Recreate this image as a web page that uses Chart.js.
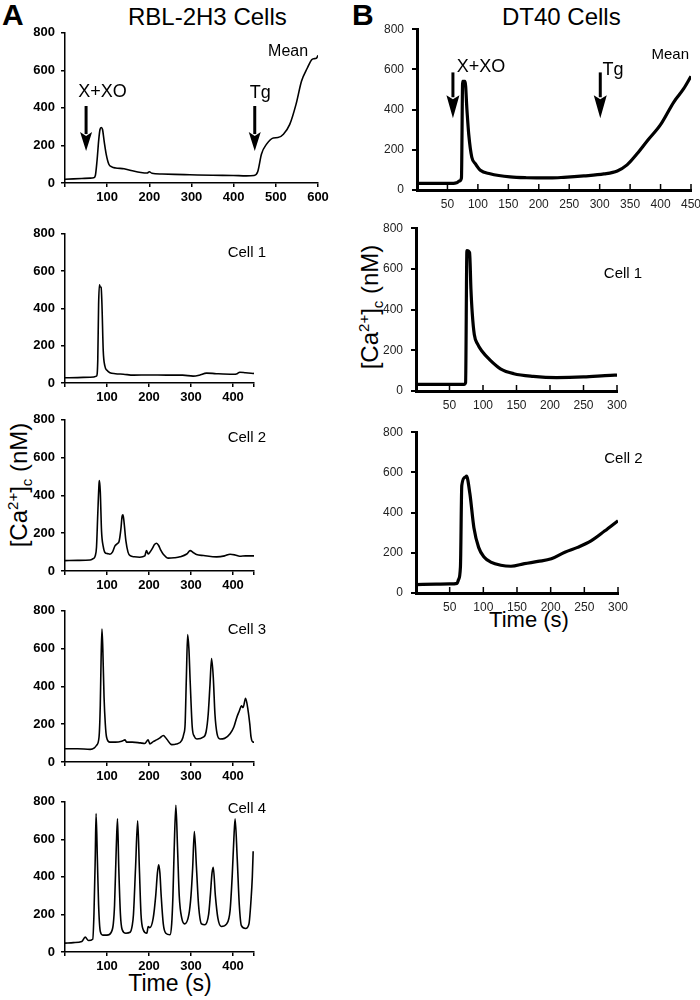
<!DOCTYPE html>
<html><head><meta charset="utf-8">
<script src="https://cdn.jsdelivr.net/npm/chart.js@4.4.1/dist/chart.umd.min.js"></script>
<style>
html,body{margin:0;padding:0;background:#fff;}
body{width:700px;height:1000px;position:relative;overflow:hidden;font-family:'Liberation Sans',Arial,sans-serif;color:#000;}
.lbl{position:absolute;white-space:nowrap;line-height:1;}
canvas{position:absolute;}
.ylab{position:absolute;white-space:nowrap;line-height:1;font-size:24px;transform:translate(-50%,-50%) rotate(-90deg);}
.ylab .sp{font-size:15px;vertical-align:9px;}
.ylab .sb{font-size:15px;vertical-align:-5px;}
</style></head>
<body>
<div class="lbl" style="left:2px;top:0px;font-size:30px;font-weight:bold;">A</div>
<div class="lbl" style="left:128px;top:5px;font-size:24px;">RBL-2H3 Cells</div>
<div class="lbl" style="left:352px;top:0px;font-size:30px;font-weight:bold;">B</div>
<div class="lbl" style="left:502px;top:5px;font-size:24px;">DT40 Cells</div>
<div class="lbl" style="left:170px;top:972px;font-size:23px;transform:translateX(-50%);">Time (s)</div>
<div class="lbl" style="left:529px;top:609px;font-size:22px;transform:translateX(-50%);">Time (s)</div>
<div class="ylab" style="left:19px;top:485px;">[Ca<span class="sp">2+</span>]<span class="sb">c</span> (nM)</div>
<div class="ylab" style="left:370px;top:307px;">[Ca<span class="sp">2+</span>]<span class="sb">c</span> (nM)</div>
<script>
// ---------------- DATA ----------------
// Panel A (RBL-2H3) mean trace
const aMeanT  = [0,20,40,60,68,72,76,80,83,86,89,93,98,104,111,120,140,160,180,195,200,206,230,260,296,350,399,430,448,457,466,478,494,505,518,533,548,561,575,585,590,596,600];
const aMeanCa = [20,22,24,26,28,40,120,230,285,296,285,220,150,100,86,80,76,65,56,53,60,52,48,46,44,41,40,38,40,60,155,207,240,242,260,312,420,543,614,657,662,664,680];
// Panel A cell 1
const aCell1T  = [0,30,60,75,78,80,82,84,86,88,91,95,100,107,120,139,163,200,242,280,305,320,337,360,400,410,416,430,448,450];
const aCell1Ca = [28,29,31,37,120,420,527,515,513,420,175,90,68,55,50,47,42,43,42,42,37,42,53,50,47,50,58,55,51,52];
// Panel A cell 2
const aCell2T  = [0,30,60,67,72,75,78,81,82,84,87,91,95,101,107,113,119,125,129,133,136,138,140,145,150,155,165,178,190,194,198,202,208,213,218,223,228,234,246,260,274,290,298,305,313,330,361,380,393,405,416,430,448,450];
const aCell2Ca = [55,56,58,65,80,126,300,460,478,420,211,130,98,92,89,100,133,145,159,220,290,298,270,159,100,81,75,73,80,108,90,99,120,140,147,135,110,89,68,70,75,90,108,98,87,82,75,80,89,85,78,80,80,80];
// Panel A cell 3
const aCell3T  = [0,30,60,70,75,81,84,86,88,90,93,96,99,107,120,135,143,147,160,179,190,198,202,210,218,226,234,242,254,265,278,283,286,289,292,295,298,303,308,314,329,336,341,345,349,353,357,362,369,380,393,402,409,415,420,424,430,436,440,443,448,450];
const aCell3Ca = [70,70,67,75,88,131,300,550,704,600,341,200,131,105,105,110,117,105,105,101,98,117,96,108,117,128,140,122,92,95,114,150,201,450,674,600,429,184,135,122,131,160,254,400,548,450,254,150,122,125,149,185,236,270,297,288,337,271,200,131,105,105];
// Panel A cell 4
const aCell4T  = [0,20,40,48,56,66,69,72,74,77,80,84,90,100,110,115,118,122,125,128,132,136,145,155,160,163,168,173,177,181,186,195,198,202,210,216,220,223,226,229,234,240,250,254,257,260,264,268,272,278,285,295,300,304,308,313,318,325,333,342,346,350,353,358,364,372,385,393,398,402,405,410,415,420,430,438,443,446,448];
const aCell4Ca = [47,50,56,79,61,68,205,500,738,500,250,110,90,90,105,150,250,550,709,450,200,120,100,105,140,200,450,699,450,200,120,100,135,130,180,300,420,465,420,300,150,100,92,150,300,550,782,550,300,180,150,200,300,450,642,450,250,150,145,200,300,420,451,300,180,136,150,220,400,600,709,500,250,140,125,150,280,400,537];
// Panel B (DT40) mean trace
const bMeanT  = [0,30,60,65,70,73,75,79,82,85,90,96,104,120,153,180,219,241,274,307,329,345,361,378,400,422,438,450];
const bMeanCa = [33,33,33,36,45,60,540,540,400,276,163,130,98,81,65,61,60,63,70,80,95,125,179,244,325,439,504,566];
// Panel B cell 1
const bCell1T  = [0,40,72,74,76,80,82,84,87,92,98,111,126,146,175,210,250,290,300];
const bCell1Ca = [33,33,33,40,690,680,500,380,278,230,198,150,109,85,72,66,69,77,78];
// Panel B cell 2
const bCell2T  = [0,30,50,61,63,66,68,73,75,80,86,93,101,111,126,141,161,181,201,221,240,260,280,300];
const bCell2Ca = [42,44,45,48,65,130,535,576,581,495,325,227,179,154,138,133,146,157,170,203,227,259,308,360];
// Tick values
const yTicks     = [0,200,400,600,800];
const aMeanXTicks = [0,100,200,300,400,500,600];
const aCellXTicks = [0,100,200,300,400,450];
const aCellXLabels = [100,200,300,400];
const bMeanXTicks = [0,50,100,150,200,250,300,350,400,450];
const bCellXTicks = [0,50,100,150,200,250,300];

// ---------------- ANNOTATIONS (data coordinates) ----------------
const aMeanNotes = [{text:'Mean',x:529,y:700,size:16},{text:'X+XO',x:89,y:484,size:18},{text:'Tg',x:463,y:479,size:18}];
const aMeanArrows = [{x:50,y1:410,y2:170},{x:450,y1:410,y2:170}];
const bMeanNotes = [{text:'Mean',x:416,y:673,size:15},{text:'X+XO',x:105,y:610,size:18},{text:'Tg',x:322,y:598,size:18}];
const bMeanArrows = [{x:59,y1:585,y2:357},{x:301,y1:585,y2:357}];

// ---------------- DRAWING ----------------
const FONT = "'Liberation Sans', Arial, sans-serif";
const YW = 55, XH = 30, PT = 12, PR = 40;

function annotPlugin(notes, arrows, st) {
  return {
    id: 'annot',
    afterDatasetsDraw(chart) {
      const ctx = chart.ctx, xs = chart.scales.x, ys = chart.scales.y;
      ctx.save();
      ctx.fillStyle = '#000'; ctx.strokeStyle = '#000';
      ctx.textAlign = 'center'; ctx.textBaseline = 'middle';
      notes.forEach(n => {
        ctx.font = n.size + 'px ' + FONT;
        ctx.fillText(n.text, xs.getPixelForValue(n.x), ys.getPixelForValue(n.y));
      });
      arrows.forEach(a => {
        const x = xs.getPixelForValue(a.x), y1 = ys.getPixelForValue(a.y1), y2 = ys.getPixelForValue(a.y2);
        ctx.lineWidth = st.shaft;
        ctx.beginPath(); ctx.moveTo(x, y1); ctx.lineTo(x, y2 - st.headLen + 2); ctx.stroke();
        ctx.beginPath();
        ctx.moveTo(x - st.headW / 2, y2 - st.headLen);
        ctx.lineTo(x, y2 - st.headLen + 4);
        ctx.lineTo(x + st.headW / 2, y2 - st.headLen);
        ctx.lineTo(x, y2);
        ctx.closePath(); ctx.fill();
      });
      if (st.inwardTicks) {
        const b = chart.chartArea.bottom;
        ctx.lineWidth = 1.5;
        xs.ticks.forEach(t => {
          const px = xs.getPixelForValue(t.value);
          if (t.value === 0) return;
          ctx.beginPath(); ctx.moveTo(px, b); ctx.lineTo(px, b - 6); ctx.stroke();
        });
      }
      ctx.restore();
    }
  };
}

function panel(g, tArr, cArr, xTicks, xLabels, style, notes, arrows) {
  const cv = document.createElement('canvas');
  const w = YW + (g.right - g.left) + PR, h = PT + (g.bottom - g.top) + XH;
  cv.width = w; cv.height = h;
  cv.style.left = (g.left - YW) + 'px'; cv.style.top = (g.top - PT) + 'px';
  cv.style.width = w + 'px'; cv.style.height = h + 'px';
  document.body.appendChild(cv);
  const tickFont = {family: FONT, size: style.tickSize, weight: style.tickWeight};
  new Chart(cv, {
    type: 'line',
    data: { datasets: [{
      data: tArr.map((t, i) => ({x: t, y: cArr[i]})),
      borderColor: '#000', borderWidth: style.lineW, pointRadius: 0,
      cubicInterpolationMode: 'monotone', fill: false
    }]},
    options: {
      responsive: false, animation: false, devicePixelRatio: 1,
      layout: {padding: {top: PT, right: PR, left: 0, bottom: 0}},
      plugins: {legend: {display: false}, tooltip: {enabled: false}},
      scales: {
        x: {
          type: 'linear', min: 0, max: g.xmax,
          afterFit(s) { s.height = XH; },
          afterBuildTicks(s) { s.ticks = xTicks.map(v => ({value: v})); },
          ticks: {autoSkip: false, maxRotation: 0, minRotation: 0, padding: style.xPad, color: style.tickColor, font: tickFont,
                  callback: v => xLabels.includes(v) ? String(v) : ''},
          grid: {drawOnChartArea: false, drawTicks: !style.inwardTicks, tickLength: 4, color: '#000', lineWidth: style.tickW},
          border: {display: true, color: '#000', width: style.axisW}
        },
        y: {
          type: 'linear', min: 0, max: 800,
          afterFit(s) { s.width = YW; },
          afterBuildTicks(s) { s.ticks = yTicks.map(v => ({value: v})); },
          ticks: {autoSkip: false, padding: style.yPad, color: style.tickColor, font: tickFont},
          grid: {drawOnChartArea: false, drawTicks: true, tickLength: style.yTickLen, color: '#000', lineWidth: style.tickW},
          border: {display: true, color: '#000', width: style.axisW}
        }
      }
    },
    plugins: [annotPlugin(notes || [], arrows || [], style)]
  });
}

const styleA = {tickSize: 13, tickWeight: 'bold', tickColor: '#000', lineW: 1.6, axisW: 1.5, tickW: 1.5, xPad: 3, yPad: 6, yTickLen: 4,
                shaft: 3, headLen: 19, headW: 12, inwardTicks: false};
const styleB = {tickSize: 12, tickWeight: 'normal', tickColor: '#222', lineW: 3.2, axisW: 3, tickW: 2, xPad: 7, yPad: 8, yTickLen: 5,
                shaft: 3, headLen: 23, headW: 13, inwardTicks: true};

const aCellLabel = (n, y) => [{text: 'Cell ' + n, x: 433, y: y, size: 15}];

panel({left: 65, right: 318, top: 31, bottom: 183, xmax: 600}, aMeanT, aMeanCa, aMeanXTicks, aMeanXTicks.slice(1), styleA, aMeanNotes, aMeanArrows);
panel({left: 65, right: 254, top: 232, bottom: 383, xmax: 450}, aCell1T, aCell1Ca, aCellXTicks, aCellXLabels, styleA, aCellLabel(1, 698));
panel({left: 65, right: 254, top: 418, bottom: 571, xmax: 450}, aCell2T, aCell2Ca, aCellXTicks, aCellXLabels, styleA, aCellLabel(2, 705));
panel({left: 65, right: 254, top: 609, bottom: 762, xmax: 450}, aCell3T, aCell3Ca, aCellXTicks, aCellXLabels, styleA, aCellLabel(3, 697));
panel({left: 65, right: 254, top: 800, bottom: 952, xmax: 450}, aCell4T, aCell4Ca, aCellXTicks, aCellXLabels, styleA, aCellLabel(4, 763));

panel({left: 417, right: 691, top: 26, bottom: 190, xmax: 450}, bMeanT, bMeanCa, bMeanXTicks, bMeanXTicks.slice(1), styleB, bMeanNotes, bMeanArrows);
panel({left: 416, right: 617, top: 225, bottom: 391, xmax: 300}, bCell1T, bCell1Ca, bCellXTicks, bCellXTicks.slice(1), styleB, [{text: 'Cell 1', x: 309, y: 578, size: 15}]);
panel({left: 416, right: 618, top: 429, bottom: 593, xmax: 300}, bCell2T, bCell2Ca, bCellXTicks, bCellXTicks.slice(1), styleB, [{text: 'Cell 2', x: 308, y: 666, size: 15}]);
</script>
</body></html>
